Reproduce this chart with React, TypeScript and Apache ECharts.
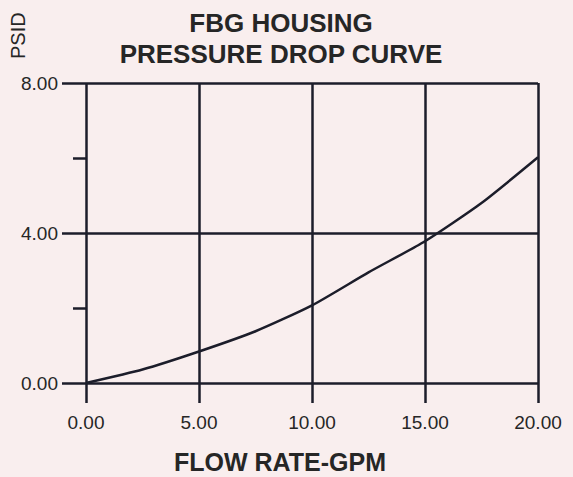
import React, { useEffect, useRef } from "react";
import * as echarts from "echarts";

const flowRate = [0, 2.5, 5, 7.5, 10, 12.5, 15, 17.5, 20];
const psid = [0, 0.36, 0.84, 1.38, 2.07, 2.95, 3.78, 4.8, 6.02];
const titleLines = ["FBG HOUSING", "PRESSURE DROP CURVE"];
const xAxisTitle = "FLOW RATE-GPM";
const yAxisTitle = "PSID";

const INK = "#1c1d2a";
const TEXT = "#262626";
const BG = "#f9eeee";

export default function App() {
  const ref = useRef<HTMLDivElement>(null);
  useEffect(() => {
    if (!ref.current) return;
    const chart = echarts.init(ref.current, undefined, { renderer: "svg" });
    chart.setOption({
      animation: false,
      backgroundColor: BG,
      title: {
        text: titleLines.join("\n"),
        left: 276,
        top: 2,
        textAlign: "center",
        textStyle: {
          fontFamily: "Liberation Sans",
          fontWeight: "bold",
          fontSize: 26,
          lineHeight: 31,
          color: TEXT,
        },
      },
      graphic: [
        {
          type: "text",
          x: 8,
          y: 59,
          rotation: Math.PI / 2,
          style: {
            text: yAxisTitle,
            fontFamily: "Liberation Sans",
            fontSize: 20,
            fill: TEXT,
          },
        },
        {
          type: "text",
          x: 280,
          y: 462,
          style: {
            text: xAxisTitle,
            fontFamily: "Liberation Sans",
            fontWeight: "bold",
            fontSize: 25,
            fill: TEXT,
            align: "center",
            verticalAlign: "middle",
          },
        },
      ],
      grid: { left: 86, right: 35, top: 83, bottom: 94 },
      xAxis: {
        type: "value",
        min: 0,
        max: 20,
        interval: 5,
        axisLine: { show: false },
        axisTick: { show: true, length: 20, lineStyle: { color: INK, width: 2.5 } },
        splitLine: { show: true, lineStyle: { color: INK, width: 2.5 } },
        axisLabel: {
          margin: 30,
          fontFamily: "Liberation Sans",
          fontSize: 19,
          color: TEXT,
          formatter: (v: number) => v.toFixed(2),
        },
      },
      yAxis: {
        type: "value",
        min: 0,
        max: 8,
        interval: 4,
        axisLine: { show: false },
        axisTick: { show: true, length: 24, lineStyle: { color: INK, width: 2.5 } },
        minorTick: { show: true, splitNumber: 2, length: 13, lineStyle: { color: INK, width: 2.5 } },
        splitLine: { show: true, lineStyle: { color: INK, width: 2.5 } },
        axisLabel: {
          margin: 28,
          fontFamily: "Liberation Sans",
          fontSize: 19,
          color: TEXT,
          formatter: (v: number) => v.toFixed(2),
        },
      },
      series: [
        {
          type: "line",
          data: flowRate.map((x, i) => [x, psid[i]]),
          showSymbol: false,
          smooth: 0.2,
          lineStyle: { color: INK, width: 2.5 },
        },
      ],
    });
    return () => chart.dispose();
  }, []);
  return <div ref={ref} style={{ width: 573, height: 477, position: "absolute", left: 0, top: 0 }} />;
}
